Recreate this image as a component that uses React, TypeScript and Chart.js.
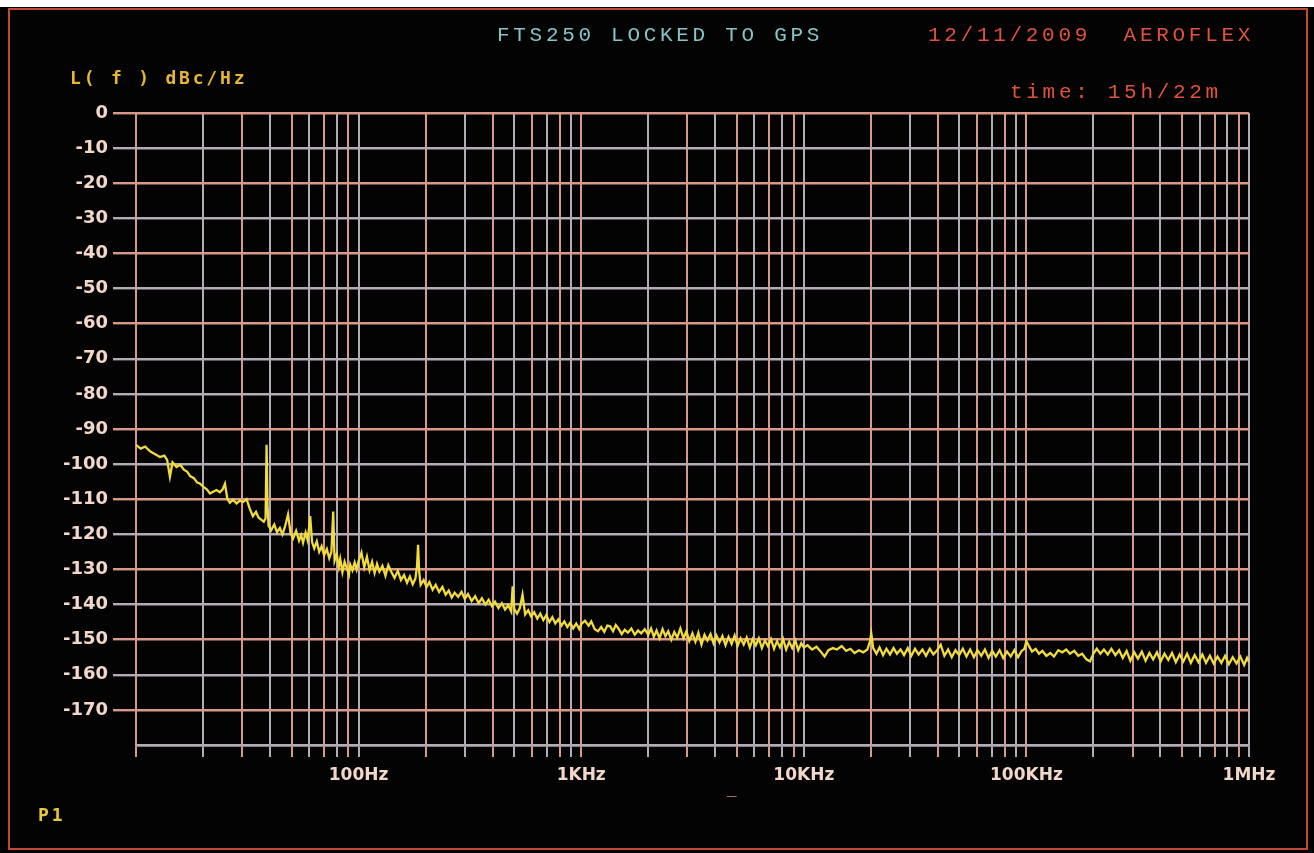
import React, { useEffect, useRef } from "react";
import { Chart, registerables } from "chart.js";

Chart.register(...registerables);

// ---- data ----
const titleText = "FTS250 LOCKED TO GPS";
const dateText = "12/11/2009  AEROFLEX";
const timeText = "time: 15h/22m";
const yAxisTitle = "L( f ) dBc/Hz";
const markerText = "P1";

const yTicks = [0, -10, -20, -30, -40, -50, -60, -70, -80, -90, -100, -110, -120, -130, -140, -150, -160, -170, -180];
const xGridFreqs = [
  10, 20, 30, 40, 50, 60, 70, 80, 90,
  100, 200, 300, 400, 500, 600, 700, 800, 900,
  1000, 2000, 3000, 4000, 5000, 6000, 7000, 8000, 9000,
  10000, 20000, 30000, 40000, 50000, 60000, 70000, 80000, 90000,
  100000, 200000, 300000, 400000, 500000, 600000, 700000, 800000, 900000,
  1000000,
];
const xLabelFreqs = [100, 1000, 10000, 100000, 1000000];
const xLabelTexts = ["100Hz", "1KHz", "10KHz", "100KHz", "1MHz"];

const freqHz = [
  10, 10.5, 11, 11.6, 12.2, 12.8, 13.4, 13.8, 14.2, 14.6, 15.2, 15.8, 16.4, 17, 17.5, 18.2, 18.8, 19.4,
  20.1, 20.8, 21.5, 22.2, 23, 23.8, 24.5, 25.1, 25.7, 26.4, 27.3, 28.3, 29.3, 30.3, 31.4, 32.4, 33.5,
  34.6, 35.5, 36.5, 37.5, 38.2, 38.6, 39, 39.4, 40.5, 41.8, 43, 44.3, 45.5, 46.8, 48.2, 49.5, 50.8,
  52.4, 54, 55.2, 56.3, 57.8, 59, 60, 60.6, 61.8, 63.2, 64.9, 66.5, 68.2, 70, 72, 73.8, 75.5, 76.9,
  78, 79.8, 81.5, 82.7, 84.6, 86.5, 88.5, 90.5, 91.7, 93.8, 96, 98, 100,
  103, 106, 109, 112, 115, 118, 121, 124, 128, 132, 136, 140, 145, 150, 155, 160, 165, 170, 175, 180,
  183, 185, 187, 190, 196, 202, 208, 215, 222, 230, 238, 246, 254, 262, 270, 280, 290, 300, 310, 322,
  334, 346, 358, 371, 384, 397, 410, 425, 440, 455, 470, 485, 492, 500, 515, 530, 545, 560, 578, 596,
  615, 635, 655, 676, 697, 720, 742, 765, 790, 815, 840, 866, 893, 920, 950, 980, 1000,
  1040, 1080, 1110, 1150, 1190, 1230, 1270, 1310, 1350, 1390, 1430, 1470, 1520, 1570, 1620, 1680,
  1740, 1800, 1860, 1930, 2000, 2060, 2120, 2180, 2250, 2320, 2390, 2460, 2540, 2620, 2700, 2790,
  2880, 2970, 3060, 3160, 3260, 3360, 3470, 3580, 3690, 3810, 3930, 4050, 4180, 4310, 4450, 4590,
  4740, 4890, 5040, 5200, 5370, 5540, 5720, 5900, 6090, 6280, 6480, 6690, 6900, 7120, 7350, 7580,
  7820, 8070, 8330, 8600, 8870, 9150, 9440, 9740, 10000,
  10400, 10900, 11400, 11900, 12400, 12900, 13500, 14100, 14800, 15500, 16200, 16900, 17700, 18500,
  19300, 19800, 20100, 20500, 21200, 21900, 22700, 23500, 24400, 25300, 26200, 27200, 28200, 29300,
  30400, 31600, 32800, 34100, 35400, 36800, 38200, 39700, 41200, 42800, 44500, 46200, 48000, 49900,
  51800, 53800, 55900, 58100, 60300, 62700, 65100, 67600, 70200, 72900, 75800, 78700, 81800, 85000,
  88300, 91700, 95200, 98000, 100000,
  103000, 106000, 110000, 114000, 118000, 123000, 128000, 133000, 139000, 145000, 151000, 157000,
  164000, 171000, 178000, 186000, 193000, 200000, 207000, 215000, 223000, 232000, 241000, 251000,
  261000, 271000, 282000, 293000, 305000, 317000, 330000, 343000, 357000, 371000, 386000, 401000,
  417000, 434000, 451000, 469000, 488000, 507000, 527000, 548000, 570000, 593000, 617000, 641000,
  667000, 694000, 722000, 751000, 781000, 812000, 845000, 879000, 914000, 951000, 980000, 1000000,
];

const levelDbc = [
  -94.5, -95.6, -95.0, -96.4, -97.2, -98.0, -97.6, -98.8, -103.6, -99.5, -100.8, -100.2, -101.6, -102.2, -103.4, -104.0, -105.2, -105.6,
  -106.5, -107.2, -108.4, -107.9, -107.4, -108.0, -107.2, -105.6, -109.8, -111.0, -110.2, -111.2, -110.4, -110.8, -110.0, -112.6, -114.8,
  -113.6, -115.2, -115.8, -116.4, -115.5, -94.5, -112.0, -117.5, -118.8, -117.2, -119.4, -118.2, -120.0, -117.6, -114.3, -119.8, -121.2,
  -119.0, -121.8, -120.2, -122.4, -119.5, -121.6, -117.8, -114.8, -122.2, -124.0, -122.0, -125.0, -123.4, -126.0, -124.2, -126.8, -125.0, -113.5,
  -127.5, -125.6, -129.2, -127.0, -130.8, -127.8, -129.6, -131.5, -128.6, -130.2, -128.0, -130.0, -127.6,
  -125.2, -129.4, -126.4, -130.2, -127.8, -131.0, -128.4, -130.6, -129.0, -131.8, -128.8, -130.6, -132.4, -130.4, -133.0, -131.6, -133.8, -132.0, -134.2, -132.6,
  -129.0, -123.0, -130.5, -134.4, -133.0, -135.0, -133.6, -135.8, -134.4, -136.4, -135.0, -137.2, -136.0, -138.0, -136.6, -137.8, -136.4, -138.4, -137.0, -139.0,
  -137.6, -139.6, -138.2, -140.0, -138.6, -140.4, -139.2, -141.0, -139.6, -141.4, -140.2, -142.0, -134.8, -141.2, -142.6, -141.0, -137.2, -142.8, -141.6, -143.4,
  -142.2, -144.0, -142.6, -144.4, -143.0, -145.0, -143.6, -145.4, -144.2, -146.0, -144.8, -146.4, -145.2, -146.8, -145.4, -147.0, -145.6,
  -144.6, -146.0, -144.8, -147.0, -147.6, -146.4, -147.8, -146.0, -146.2, -147.6, -145.8, -146.8, -148.4, -147.2, -148.0, -146.8,
  -148.6, -147.4, -148.2, -147.0, -148.6, -146.8, -149.2, -147.4, -149.6, -147.0, -149.0, -147.6, -150.0, -147.8, -149.4, -146.8,
  -149.6, -147.6, -150.4, -148.2, -150.6, -148.0, -151.4, -148.6, -150.2, -148.4, -151.0, -148.8, -150.8, -149.0, -151.6, -149.2,
  -151.2, -148.8, -151.8, -149.6, -151.4, -149.4, -152.2, -149.8, -151.6, -149.6, -152.4, -150.2, -151.8, -149.8, -152.6, -150.4,
  -152.2, -149.8, -152.8, -150.6, -152.4, -150.2, -153.0, -151.0, -152.2,
  -151.6, -152.8, -152.0, -153.4, -154.8, -153.0, -152.4, -152.8, -151.8, -153.2, -152.6, -153.8, -153.0, -153.6,
  -152.8, -150.6, -148.2, -152.4, -154.0, -152.2, -154.4, -152.6, -154.2, -152.4, -154.0, -152.8, -154.4, -152.4,
  -154.6, -152.6, -154.2, -152.8, -154.6, -152.6, -154.2, -153.0, -151.4, -154.6, -152.8, -155.0, -153.0, -154.4,
  -152.6, -154.8, -152.8, -155.0, -153.0, -154.6, -152.8, -155.2, -153.2, -154.8, -153.0, -155.2, -153.4, -154.8,
  -153.0, -155.0, -153.2, -152.6, -150.4,
  -152.0, -153.4, -152.6, -154.0, -153.2, -154.6, -153.8, -154.8, -153.0, -153.6, -152.8, -154.0,
  -153.2, -154.6, -154.0, -155.6, -156.2, -154.0, -152.6, -154.0, -152.8, -154.2, -152.6, -154.4,
  -153.0, -155.2, -153.2, -156.0, -153.6, -155.4, -153.4, -156.0, -153.8, -155.6, -153.6, -156.2,
  -154.0, -155.8, -153.8, -156.4, -154.2, -156.2, -154.0, -156.6, -154.4, -156.4, -154.2, -156.6,
  -154.6, -156.8, -154.8, -156.6, -154.6, -157.0, -155.0, -156.8, -154.8, -157.2, -155.2, -156.4,
];

// grid line colours (alternating salmon / grey as on the analyser screen)
const salmonYLines = [0, -20, -40, -60, -90, -110, -130, -150, -170];

const SALMON = "#d9998a";
const GREY = "#b3abb5";
const LABEL = "#f3d8ca";

const W = 1314;
const H = 853;

export default function App() {
  const ref = useRef<HTMLCanvasElement | null>(null);

  useEffect(() => {
    document.body.style.margin = "0";
    document.body.style.background = "#000";
    const canvas = ref.current;
    if (!canvas) return;
    const points = freqHz.map((f, i) => ({ x: f, y: levelDbc[i] }));
    const chart = new Chart(canvas, {
      type: "line",
      data: {
        datasets: [
          {
            data: points,
            borderColor: "#f0dc3e",
            borderWidth: 2.3,
            pointRadius: 0,
            tension: 0,
            fill: false,
          },
        ],
      },
      options: {
        animation: false,
        responsive: false,
        devicePixelRatio: 1,
        layout: { padding: { left: 0, right: 65, top: 113, bottom: 48 } },
        plugins: { legend: { display: false }, tooltip: { enabled: false } },
        scales: {
          x: {
            type: "logarithmic",
            min: 10,
            max: 1000000,
            afterBuildTicks: (scale: any) => {
              scale.ticks = xGridFreqs.map((v) => ({ value: v }));
            },
            afterFit: (scale: any) => {
              scale.height = 60;
            },
            grid: {
              color: (c: any) => (c.index % 2 === 0 ? SALMON : GREY),
              lineWidth: 2,
              drawTicks: true,
              tickLength: 12,
            },
            border: { display: true, color: GREY, width: 2.4 },
            ticks: {
              autoSkip: false,
              maxRotation: 0,
              minRotation: 0,
              padding: 8,
              color: LABEL,
              font: { family: "DejaVu Sans", weight: "bold", size: 17 },
              callback: (v: any) => {
                const k = xLabelFreqs.indexOf(Number(v));
                return k >= 0 ? xLabelTexts[k] : "";
              },
            },
          },
          y: {
            type: "linear",
            min: -180,
            max: 0,
            afterBuildTicks: (scale: any) => {
              scale.ticks = yTicks.map((v) => ({ value: v }));
            },
            afterFit: (scale: any) => {
              scale.width = 136;
            },
            grid: {
              color: (c: any) => (salmonYLines.includes(c.tick?.value) ? SALMON : GREY),
              tickColor: (c: any) =>
                c.tick?.value === -180 ? "rgba(0,0,0,0)" : salmonYLines.includes(c.tick?.value) ? SALMON : GREY,
              lineWidth: 2.4,
              drawTicks: true,
              tickLength: 23,
            },
            border: { display: false },
            ticks: {
              padding: 5,
              color: LABEL,
              font: { family: "DejaVu Sans", weight: "bold", size: 18 },
              callback: (v: any) => (Number(v) === -180 ? "" : String(v)),
            },
          },
        },
      },
    });
    return () => chart.destroy();
  }, []);

  const mono: React.CSSProperties = {
    position: "absolute",
    fontFamily: "'Liberation Mono', 'DejaVu Sans Mono', monospace",
    fontSize: 21,
    lineHeight: "21px",
    letterSpacing: "3.7px",
    whiteSpace: "pre",
  };
  const boldMono: React.CSSProperties = {
    position: "absolute",
    fontFamily: "'DejaVu Sans Mono', monospace",
    fontWeight: "bold",
    fontSize: 18,
    lineHeight: "18px",
    letterSpacing: "2.8px",
    whiteSpace: "pre",
  };

  return (
    <div style={{ position: "relative", width: W, height: H, background: "#000", overflow: "hidden" }}>
      <div style={{ position: "absolute", left: 0, top: 0, width: W, height: 7, background: "#fff" }} />
      <div
        style={{
          position: "absolute",
          left: 8,
          top: 8,
          width: 1300,
          height: 842,
          border: "2px solid #c4472f",
          boxSizing: "border-box",
          background: "#030303",
        }}
      />
      <canvas ref={ref} width={W} height={H} style={{ position: "absolute", left: 0, top: 0, width: W, height: H }} />
      <div style={{ ...mono, left: 497, top: 25, color: "#86c5c7" }}>{titleText}</div>
      <div style={{ ...mono, left: 928, top: 25, color: "#e0523c" }}>{dateText}</div>
      <div style={{ ...mono, left: 1010, top: 82, color: "#e0523c" }}>{timeText}</div>
      <div style={{ ...boldMono, left: 70, top: 69, color: "#e6b634" }}>{yAxisTitle}</div>
      <div style={{ ...boldMono, left: 38, top: 806, color: "#e8c93a" }}>{markerText}</div>
      <div style={{ ...mono, left: 727, top: 781, color: "#d98672", fontSize: 16 }}>_</div>
    </div>
  );
}
